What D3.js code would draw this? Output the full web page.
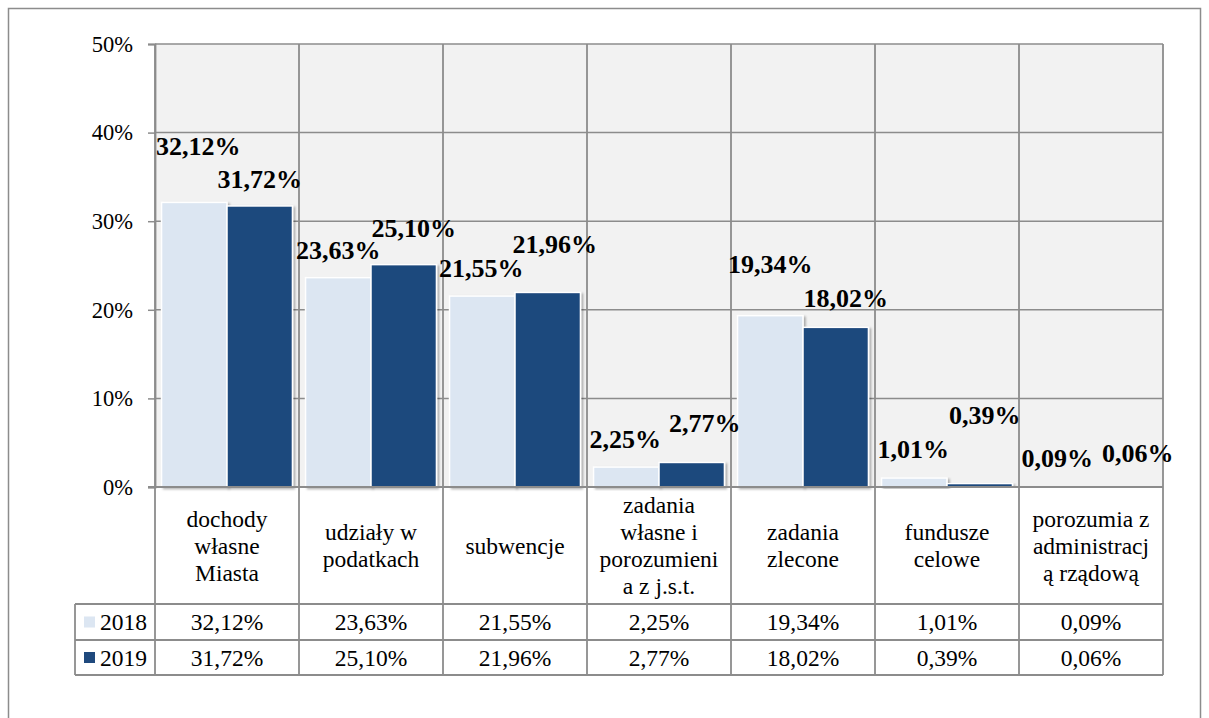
<!DOCTYPE html>
<html>
<head>
<meta charset="utf-8">
<script src="https://cdn.jsdelivr.net/npm/d3@7"></script>
<style>
  body { margin: 0; background: #fff; }
  svg { display: block; }
</style>
</head>
<body>
<svg id="chart" width="1209" height="718"></svg>
<script>
// data
var categories = [
  ['dochody', 'własne', 'Miasta'],
  ['udziały w', 'podatkach'],
  ['subwencje'],
  ['zadania', 'własne i', 'porozumieni', 'a z j.s.t.'],
  ['zadania', 'zlecone'],
  ['fundusze', 'celowe'],
  ['porozumia z', 'administracj', 'ą rządową']
];
var years = ['2018', '2019'];
var values2018 = [32.12, 23.63, 21.55, 2.25, 19.34, 1.01, 0.09];
var values2019 = [31.72, 25.10, 21.96, 2.77, 18.02, 0.39, 0.06];
var yTicks = [0, 10, 20, 30, 40, 50];

// hand-placed data label offsets, like the original (dx from bar centre, dy from bar top)
var nudge2018 = [[4, -47], [0, -19], [-1, -19], [-1, -19], [0, -43], [-1, -20], [-1, -19]];
var nudge2019 = [[0, -18], [10, -28], [7, -39], [13, -30], [10, -20], [5, -60], [14, -24]];

var FONT = '"Liberation Serif", "Times New Roman", serif';
var colors = {'2018': '#dce6f2', '2019': '#1f497d'};
var gridColor = '#8c8c8c';

var plot = {left: 155, right: 1163, top: 44, bottom: 487};
var tableRows = {cat: 604, r2018: 640, r2019: 675, legendLeft: 75};

var pl = d3.formatLocale({decimal: ',', thousands: ' ', grouping: [3], currency: ['', '']});
var fmt = function(v) { return pl.format('.2f')(v) + '%'; };

var series = years.map(function(y, i) {
  var vals = i === 0 ? values2018 : values2019;
  var nud = i === 0 ? nudge2018 : nudge2019;
  return {year: y, values: vals.map(function(v, j) {
    return {cat: j, year: y, value: v, nudge: nud[j]};
  })};
});

var svg = d3.select('#chart').style('font-family', FONT);

var defs = svg.append('defs');
var f = defs.append('filter').attr('id', 'shadow')
  .attr('x', '-10%').attr('y', '-10%').attr('width', '130%').attr('height', '130%');
f.append('feDropShadow').attr('dx', 2).attr('dy', 1.5).attr('stdDeviation', 1.2)
  .attr('flood-color', '#000').attr('flood-opacity', 0.3);

// outer frame
svg.append('rect')
  .attr('x', 8.5).attr('y', 8.5).attr('width', 1192).attr('height', 730)
  .attr('fill', 'none').attr('stroke', '#8c8c8c').attr('stroke-width', 1.5);

var x0 = d3.scaleBand().domain(d3.range(categories.length))
  .range([plot.left, plot.right]).paddingInner(0).paddingOuter(0);
var x1 = d3.scaleBand().domain(years)
  .range([0, x0.bandwidth()]).paddingInner(0).paddingOuter(0.1);
var y = d3.scaleLinear().domain([0, 50]).range([plot.bottom, plot.top]);

// plot background
svg.append('rect')
  .attr('x', plot.left).attr('y', plot.top)
  .attr('width', plot.right - plot.left).attr('height', plot.bottom - plot.top)
  .attr('fill', '#f2f2f2');

// horizontal gridlines
svg.append('g').selectAll('line').data(yTicks).enter().append('line')
  .attr('x1', plot.left).attr('x2', plot.right)
  .attr('y1', function(d) { return y(d); }).attr('y2', function(d) { return y(d); })
  .attr('stroke', gridColor).attr('stroke-width', 1.5);

// vertical lines (plot grid + table columns)
var bounds = d3.range(categories.length + 1).map(function(i) {
  return i < categories.length ? x0(i) : plot.right;
});
svg.append('g').selectAll('line').data(bounds).enter().append('line')
  .attr('x1', function(d) { return d; }).attr('x2', function(d) { return d; })
  .attr('y1', plot.top).attr('y2', tableRows.r2019)
  .attr('stroke', gridColor).attr('stroke-width', 1.8);

// bars
var groups = svg.append('g').selectAll('g').data(series).enter().append('g');
groups.selectAll('rect').data(function(s) { return s.values; }).enter().append('rect')
  .attr('x', function(d) { return x0(d.cat) + x1(d.year); })
  .attr('y', function(d) { return y(d.value); })
  .attr('width', x1.bandwidth())
  .attr('height', function(d) { return y(0) - y(d.value); })
  .attr('fill', function(d) { return colors[d.year]; })
  .attr('stroke', '#fff').attr('stroke-width', 1.5)
  .attr('filter', 'url(#shadow)');

// y axis
var yAxis = d3.axisLeft(y).tickValues(yTicks)
  .tickFormat(function(d) { return d + '%'; })
  .tickSize(7).tickPadding(15);
var ag = svg.append('g').attr('transform', 'translate(' + plot.left + ',0)').call(yAxis)
  .attr('font-family', null).attr('font-size', null);
ag.select('.domain').attr('stroke', gridColor).attr('stroke-width', 1.8);
ag.selectAll('.tick line').attr('stroke', gridColor).attr('stroke-width', 1.5);
ag.selectAll('.tick text').style('font-size', '22.5px')
  .style('font-family', FONT).attr('fill', '#000');

// data labels
groups.selectAll('text').data(function(s) { return s.values; }).enter().append('text')
  .attr('x', function(d) { return x0(d.cat) + x1(d.year) + x1.bandwidth() / 2 + d.nudge[0]; })
  .attr('y', function(d) { return y(d.value) + d.nudge[1]; })
  .attr('text-anchor', 'middle')
  .style('font-family', FONT)
  .style('font-size', '26px').style('font-weight', 'bold')
  .text(function(d) { return fmt(d.value); });

// data table
var tbl = svg.append('g').style('font-family', FONT);
[tableRows.cat, tableRows.r2018, tableRows.r2019].forEach(function(yy) {
  tbl.append('line')
    .attr('x1', tableRows.legendLeft).attr('x2', plot.right)
    .attr('y1', yy).attr('y2', yy)
    .attr('stroke', gridColor).attr('stroke-width', 1.8);
});
tbl.append('line')
  .attr('x1', tableRows.legendLeft).attr('x2', tableRows.legendLeft)
  .attr('y1', tableRows.cat).attr('y2', tableRows.r2019)
  .attr('stroke', gridColor).attr('stroke-width', 1.8);
svg.append('line')
  .attr('x1', plot.left - 7).attr('x2', plot.right)
  .attr('y1', y(0)).attr('y2', y(0))
  .attr('stroke', gridColor).attr('stroke-width', 2);

// category labels
var lineH = 27;
var catMid = (plot.bottom + tableRows.cat) / 2;
tbl.selectAll('text.cat').data(categories).enter().append('text')
  .attr('class', 'cat')
  .attr('text-anchor', 'middle')
  .style('font-family', FONT)
  .style('font-size', '23.5px')
  .each(function(lines, i) {
    var t = d3.select(this);
    var y0 = catMid - (lines.length - 1) * lineH / 2 + 8;
    lines.forEach(function(l, k) {
      t.append('tspan')
        .attr('x', x0(i) + x0.bandwidth() / 2)
        .attr('y', y0 + k * lineH)
        .text(l);
    });
  });

// value rows
var rowTops = [tableRows.cat, tableRows.r2018];
series.forEach(function(s, si) {
  var mid = (rowTops[si] + (si === 0 ? tableRows.r2018 : tableRows.r2019)) / 2;
  tbl.selectAll('text.v' + s.year).data(s.values).enter().append('text')
    .attr('x', function(d) { return x0(d.cat) + x0.bandwidth() / 2; })
    .attr('y', mid + 8)
    .attr('text-anchor', 'middle')
    .style('font-family', FONT)
    .style('font-size', '23.5px')
    .text(function(d) { return fmt(d.value); });
  tbl.append('rect')
    .attr('x', 84).attr('y', mid - 5.5)
    .attr('width', 11).attr('height', 11)
    .attr('fill', colors[s.year]);
  tbl.append('text')
    .attr('x', 100).attr('y', mid + 8)
    .style('font-family', FONT)
    .style('font-size', '23.5px')
    .text(s.year);
});
</script>
</body>
</html>
